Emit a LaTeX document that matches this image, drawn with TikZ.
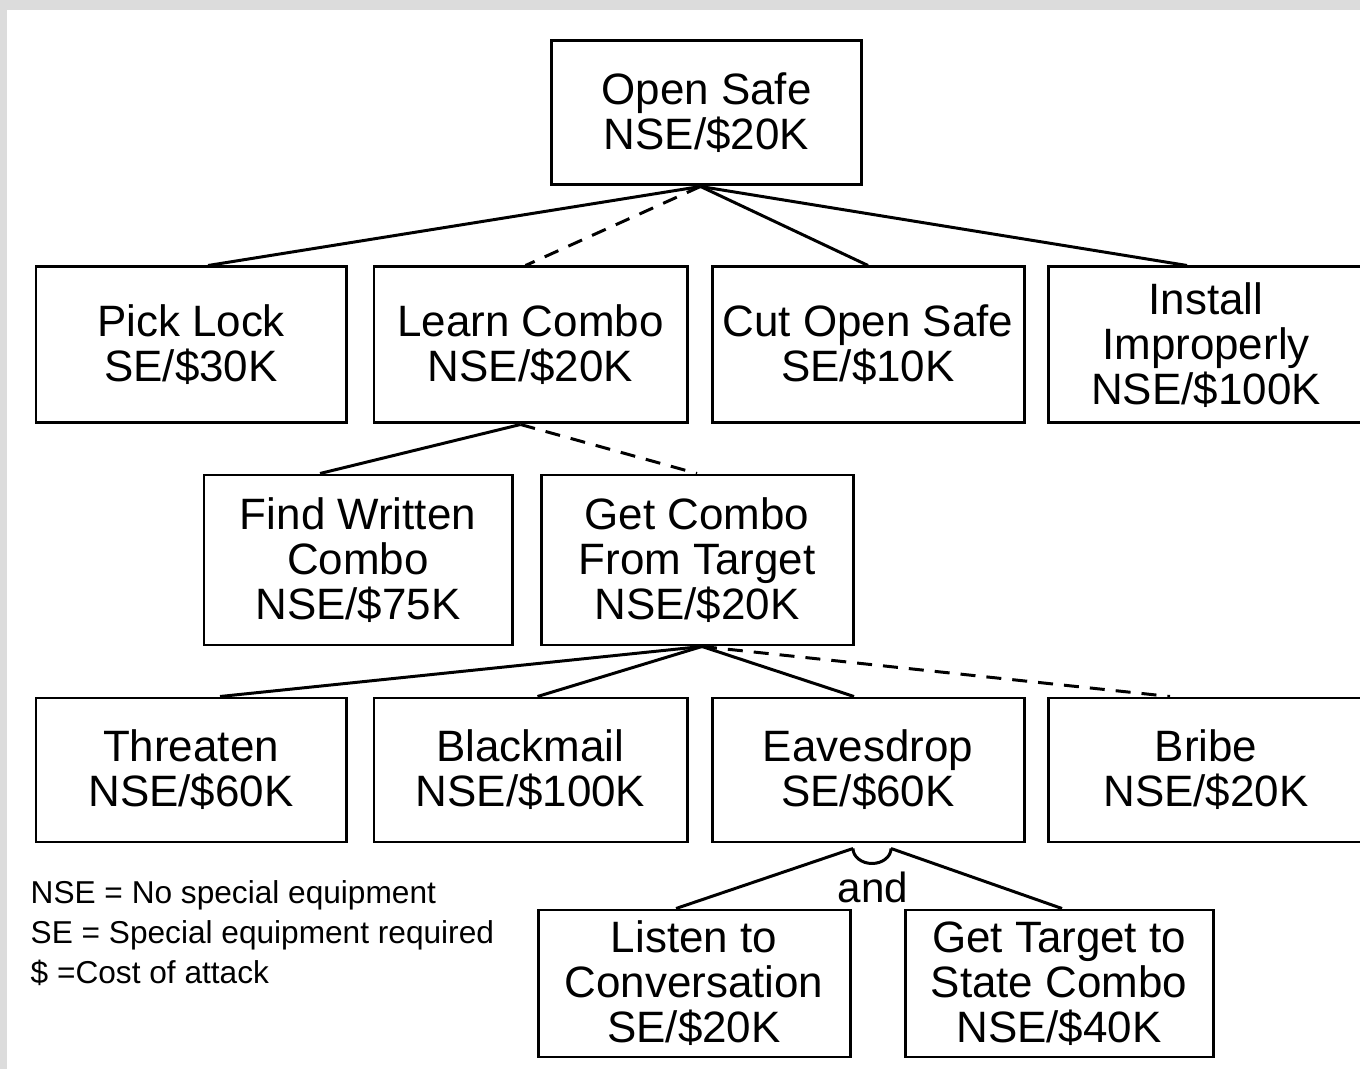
\documentclass[tikz,border=0pt]{standalone}
\usepackage{fontspec}
\setmainfont{Liberation Sans}
\usepackage{xcolor}
\definecolor{framec}{HTML}{DCDCDC}
\definecolor{linec}{HTML}{000000}
\usetikzlibrary{calc}
\tikzset{
  gbox/.style={draw=linec,line width=0.85pt,fill=white,minimum width=3.1cm,minimum height=1.44cm,inner sep=1pt,align=center,font=\fontsize{12.5}{12.8}\selectfont},
  ln/.style={draw=linec,line width=0.85pt},
  lnd/.style={ln,dash pattern=on 0.15cm off 0.11cm},
  lgd/.style={font=\fontsize{9}{11.4}\selectfont,align=left,anchor=north west,inner sep=0pt},
  andl/.style={font=\fontsize{12}{12}\selectfont,inner sep=0pt},
}

\begin{document}
\begin{tikzpicture}
  \useasboundingbox (0,0) rectangle (13.6,-10.69);
  \fill[framec] (0,0) rectangle (13.6,-10.69);
  \fill[white] (0.07,-0.10) rectangle (13.6,-10.69);
  % goal and attacks
  \node[gbox] (safe) at (7.065,-1.13) {Open Safe\\NSE/\$20K};
  \node[gbox,minimum height=1.56cm] (pick) at (1.91,-3.45) {Pick Lock\\SE/\$30K};
  \node[gbox,minimum height=1.56cm,minimum width=3.13cm] (learn) at (5.305,-3.45) {Learn Combo\\NSE/\$20K};
  \node[gbox,minimum height=1.56cm,minimum width=3.12cm] (cut) at (8.68,-3.45) {Cut Open Safe\\SE/\$10K};
  \node[gbox,minimum height=1.56cm,minimum width=3.15cm] (install) at (12.06,-3.45) {Install\\Improperly\\NSE/\$100K};
  \node[gbox,minimum height=1.70cm,minimum width=3.08cm] (findw) at (3.58,-5.60) {Find Written\\Combo\\NSE/\$75K};
  \node[gbox,minimum height=1.70cm,minimum width=3.12cm] (getcombo) at (6.97,-5.60) {Get Combo\\From Target\\NSE/\$20K};
  \node[gbox] (threaten) at (1.91,-7.70) {Threaten\\NSE/\$60K};
  \node[gbox,minimum width=3.13cm] (blackmail) at (5.305,-7.70) {Blackmail\\NSE/\$100K};
  \node[gbox,minimum width=3.12cm] (eaves) at (8.68,-7.70) {Eavesdrop\\SE/\$60K};
  \node[gbox,minimum width=3.15cm] (bribe) at (12.06,-7.70) {Bribe\\NSE/\$20K};
  \node[gbox,minimum height=1.47cm,minimum width=3.12cm] (listen) at (6.94,-9.835) {Listen to\\Conversation\\SE/\$20K};
  \node[gbox,minimum height=1.47cm,minimum width=3.08cm] (state) at (10.59,-9.835) {Get Target to\\State Combo\\NSE/\$40K};
  % links
  \draw[ln] ([xshift=-0.06cm]safe.south) -- ([xshift=0.17cm]pick.north);
  \draw[lnd] ([xshift=-0.06cm]safe.south) -- ([xshift=-0.05cm]learn.north);
  \draw[ln] ([xshift=-0.06cm]safe.south) -- (cut.north);
  \draw[ln] ([xshift=-0.06cm]safe.south) -- ([xshift=-0.19cm]install.north);
  \draw[ln] ([xshift=-0.10cm]learn.south) -- ([xshift=-0.38cm]findw.north);
  \draw[lnd] ([xshift=-0.10cm]learn.south) -- (getcombo.north);
  \draw[ln] ([xshift=0.05cm]getcombo.south) -- ([xshift=0.29cm]threaten.north);
  \draw[ln] ([xshift=0.05cm]getcombo.south) -- ([xshift=0.07cm]blackmail.north);
  \draw[ln] ([xshift=0.05cm]getcombo.south) -- ([xshift=-0.14cm]eaves.north);
  \draw[lnd] ([xshift=0.05cm]getcombo.south) -- ([xshift=-0.36cm]bribe.north);
  % and
  \coordinate (and-l) at ([xshift=-0.15cm,yshift=-0.05cm]eaves.south);
  \draw[ln] (and-l) arc[start angle=180,end angle=360,x radius=0.19,y radius=0.15] coordinate (and-r);
  \draw[ln] (and-l) -- ([xshift=-0.18cm]listen.north);
  \draw[ln] (and-r) -- ([xshift=0.03cm]state.north);
  \node[andl] (andtxt) at (8.73,-8.87) {and};
  \node[lgd] (legend) at (0.30,-8.80) {NSE = No special equipment\\SE = Special equipment required\\\$ =Cost of attack};
\end{tikzpicture}
\end{document}
